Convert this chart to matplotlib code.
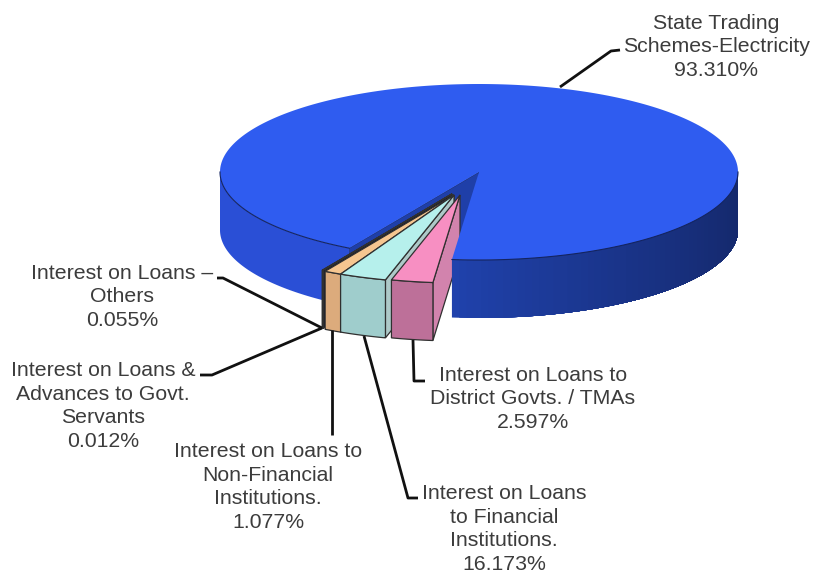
"""
Exploded 3D style pie of revenue shares
"""

import numpy as np
import matplotlib
matplotlib.use('Agg')
import matplotlib.pyplot as plt
from matplotlib.patches import Polygon

names = ['State Trading\nSchemes-Electricity',
         'Interest on Loans –\nOthers',
         'Interest on Loans &\nAdvances to Govt.\nServants',
         'Interest on Loans to\nNon-Financial\nInstitutions.',
         'Interest on Loans\nto Financial\nInstitutions.',
         'Interest on Loans to\nDistrict Govts. / TMAs']
printed_pct = [93.310, 0.055, 0.012, 1.077, 16.173, 2.597]
# printed 16.173 does not fit the drawn slice, the drawn share is what is left of 100
drawn_pct = [93.310, 0.055, 0.012, 1.077, 2.949, 2.597]

# pie geometry, in image pixels
CX, CY = 479, 172
RX, RY = 259, 88
DEPTH = 58
START = 264

top_colors = ['#2f5cf0', '#20284a', '#20284a', '#f6c690', '#b6f0ec', '#f78fc2']
front_colors = ['#2a4fd6', '#15182a', '#15182a', '#dcab7c', '#9fcdcc', '#bd7099']
side_colors = ['#1f3fa8', '#15182a', '#15182a', '#a68a5c', '#adc9c8', '#d283ad']
offsets = [(0, 0), (-27, 22), (-27, 22), (-25, 23), (-25, 23), (-19, 23)]

text_x = [716, 122, 103, 268, 504, 533]
text_y = [47, 297, 406, 487, 529, 399]
leaders = [[(560, 87), (611, 51), (620, 50)],
           [(217, 278), (223, 278), (322, 328)],
           [(200, 375), (212, 375), (322, 328)],
           [(332, 330), (332, 435)],
           [(364, 336), (408, 498), (418, 498)],
           [(413, 340), (414, 381), (425, 381)]]


def arc(t1, t2, dx=0, dy=0, n=80):
    t = np.radians(np.linspace(t1, t2, n))
    return np.column_stack([CX + dx + RX * np.cos(t), CY + dy - RY * np.sin(t)])


def down(pts):
    return pts + np.array([0, DEPTH])


def front_face(ax, t1, t2, dx, dy, color, edge='none', lw=0):
    """Outer rim of a wedge, only the part turned to the viewer"""
    top = arc(t1, t2, dx, dy)
    ax.add_patch(Polygon(np.vstack([top, down(top)[::-1]]), closed=True,
                         facecolor=color, edgecolor=edge, linewidth=lw))


fig = plt.figure(figsize=(8.16, 5.73), dpi=100)
ax = fig.add_axes([0, 0, 1, 1])
ax.set_xlim(0, 816)
ax.set_ylim(573, 0)
ax.axis('off')

spans = [p * 3.6 for p in drawn_pct]

# back parts of the big slice, the pulled out ones lie over these
blue_end = START + spans[0]
centre = np.array([[CX, CY]])
cut = arc(blue_end, blue_end, n=1)
ax.add_patch(Polygon(np.vstack([centre, cut, down(cut), down(centre)]), closed=True,
                     facecolor=side_colors[0], edgecolor='#14245f', linewidth=0.6))
front_face(ax, 540, blue_end, 0, 0, front_colors[0])

# small slices, left one first so the right one overlaps it
ends = START - np.cumsum(spans[:0:-1])
uppers = START - np.concatenate([[0], np.cumsum(spans[:0:-1])[:-1]])
for k in range(len(ends) - 1, -1, -1):
    i = len(spans) - 1 - k
    dx, dy = offsets[i]
    lo, hi = ends[k], uppers[k]
    apex = np.array([[CX + dx, CY + dy]])
    rim = arc(lo, hi, dx, dy, n=12)
    corner = rim[-1:]
    ax.add_patch(Polygon(np.vstack([apex, corner, down(corner), down(apex)]), closed=True,
                         facecolor=side_colors[i], edgecolor='#303030', linewidth=0.9))
    front_face(ax, lo, hi, dx, dy, front_colors[i], edge='#303030', lw=0.9)
    ax.add_patch(Polygon(np.vstack([apex, rim]), closed=True,
                         facecolor=top_colors[i], edgecolor='#303030', linewidth=0.9))

# right rim gets darker towards the middle, each strip runs to the end so no seams show
stops = np.linspace(START, 360, 60)
for t1 in stops[:-1]:
    frac = (t1 - START) / (360 - START)
    mix = 1 - (1 - frac) ** 1.5
    c = np.array([0x20, 0x42, 0xac]) * (1 - mix) + np.array([0x15, 0x29, 0x6c]) * mix
    front_face(ax, t1, 360, 0, 0, '#%02x%02x%02x' % tuple(int(v) for v in c))

# top of the big slice hides what reaches past its cut
ax.add_patch(Polygon(np.vstack([centre, arc(START, blue_end, n=300)]), closed=True,
                     facecolor=top_colors[0], edgecolor='none'))
ax.plot(*arc(START, 360).T, color='#14245f', lw=0.8)
ax.plot(*arc(540, blue_end).T, color='#14245f', lw=0.8)

for pts in leaders:
    ax.plot(*zip(*pts), color='#111111', lw=2, solid_capstyle='butt', solid_joinstyle='round')

for name, pct, x, y in zip(names, printed_pct, text_x, text_y):
    ax.text(x, y, f'{name}\n{pct:.3f}%', ha='center', va='center', family='Liberation Sans',
            fontsize=15.3, color='#3c3c3c', linespacing=1.32)

fig.savefig('out.png', dpi=100)
